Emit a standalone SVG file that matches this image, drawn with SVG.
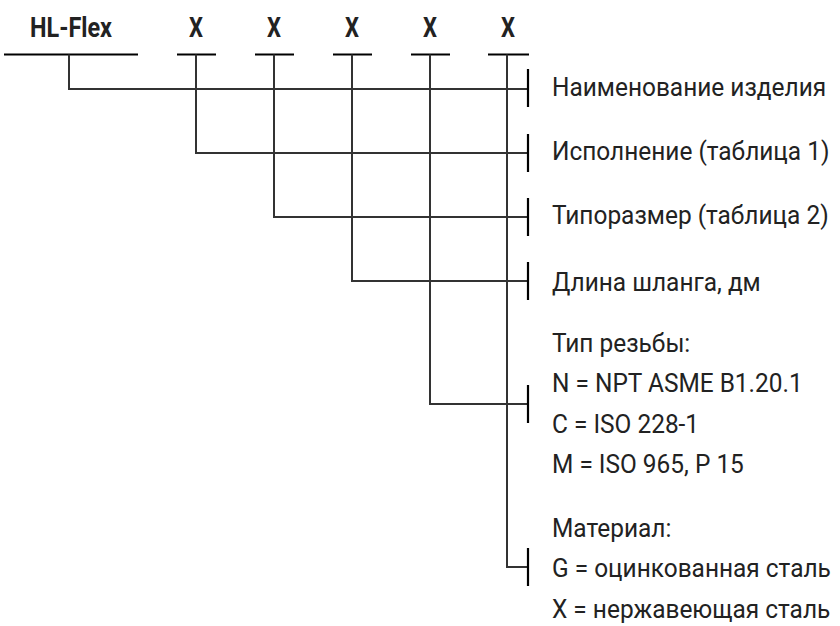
<svg xmlns="http://www.w3.org/2000/svg" width="840" height="626" viewBox="0 0 840 626">
<style>
.hd{font-family:Roboto,"Liberation Sans",sans-serif;font-weight:bold;font-size:28px;fill:#222;text-anchor:middle}
.tx{font-family:Roboto,"Liberation Sans",sans-serif;font-size:26px;fill:#222}
.ul{stroke:#000;stroke-width:2.2;fill:none}
.cn{stroke:#333;stroke-width:2;fill:none}
.tk{stroke:#000;stroke-width:2.2;fill:none}
</style>
<rect width="840" height="626" fill="#fff"/>
<g id="header">
<text class="hd" x="71" y="37" textLength="82" lengthAdjust="spacingAndGlyphs">HL-Flex</text>
<text class="hd" x="196" y="37" textLength="14" lengthAdjust="spacingAndGlyphs">X</text>
<text class="hd" x="274" y="37" textLength="14" lengthAdjust="spacingAndGlyphs">X</text>
<text class="hd" x="352" y="37" textLength="14" lengthAdjust="spacingAndGlyphs">X</text>
<text class="hd" x="430" y="37" textLength="14" lengthAdjust="spacingAndGlyphs">X</text>
<text class="hd" x="508" y="37" textLength="14" lengthAdjust="spacingAndGlyphs">X</text>
<path class="ul" d="M4 54.5H138M177 54.5H216M255 54.5H294M333 54.5H372M411 54.5H450M488 54.5H529"/>
</g>
<g id="connectors">
<path class="cn" d="M69 54.5V89H528"/>
<path class="cn" d="M196 54.5V153H528"/>
<path class="cn" d="M274 54.5V217H528"/>
<path class="cn" d="M352 54.5V281H528"/>
<path class="cn" d="M430 54.5V404H528"/>
<path class="cn" d="M507 54.5V567H528"/>
</g>
<g id="ticks">
<path class="tk" d="M528 69V107M528 134V172M528 198V236M528 262V300M528 385V423M528 548V586"/>
</g>
<g transform="translate(552,0) scale(0.94,1)">
<g id="n1"><text class="tx" x="0" y="96.5">Наименование изделия</text></g>
<g id="n2"><text class="tx" x="0" y="160">Исполнение (таблица 1)</text></g>
<g id="n3"><text class="tx" x="0" y="224">Типоразмер (таблица 2)</text></g>
<g id="n4"><text class="tx" x="0" y="291.5">Длина шланга, дм</text></g>
<g id="n5">
<text class="tx" x="0" y="352">Тип резьбы:</text>
<text class="tx" x="0" y="392.5">N = NPT ASME B1.20.1</text>
<text class="tx" x="0" y="433">C = ISO 228-1</text>
<text class="tx" x="0" y="473">M = ISO 965, P 15</text>
</g>
<g id="n6">
<text class="tx" x="0" y="537">Материал:</text>
<text class="tx" x="0" y="577">G = оцинкованная сталь</text>
<text class="tx" x="0" y="618">X = нержавеющая сталь</text>
</g>
</g>
</svg>
